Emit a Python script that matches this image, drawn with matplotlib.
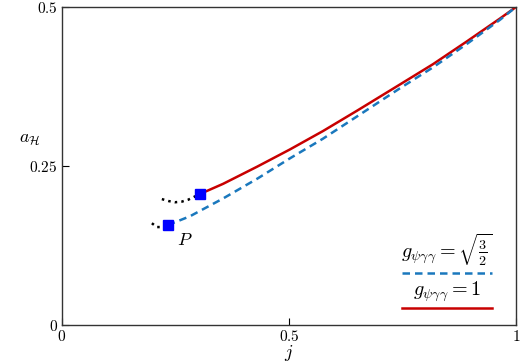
import matplotlib
matplotlib.use("Agg")
import matplotlib.pyplot as plt

plt.rcParams["mathtext.fontset"] = "cm"
plt.rcParams["font.family"] = "serif"

# g = 1 branch (red, solid)
j_red = [0.304, 0.355, 0.430, 0.502, 0.575, 0.650, 0.744, 0.817, 0.892, 0.965, 1.0]
a_red = [0.206, 0.222, 0.249, 0.276, 0.305, 0.337, 0.378, 0.410, 0.446, 0.482, 0.5]

# g = sqrt(3/2) branch (blue, dashed)
j_blue = [0.233, 0.282, 0.355, 0.430, 0.502, 0.575, 0.650, 0.744, 0.817, 0.892, 0.965, 1.0]
a_blue = [0.157, 0.171, 0.199, 0.230, 0.262, 0.293, 0.328, 0.372, 0.405, 0.442, 0.480, 0.5]

# dotted continuations
j_dot_up = [0.220, 0.234, 0.249, 0.264, 0.278, 0.304]
a_dot_up = [0.198, 0.195, 0.193, 0.194, 0.197, 0.206]
j_dot_lo = [0.198, 0.209, 0.222, 0.233]
a_dot_lo = [0.160, 0.154, 0.154, 0.157]

# end points (squares)
j_sq = [0.304, 0.233]
a_sq = [0.206, 0.157]

fig = plt.figure(figsize=(5.23, 3.64), dpi=100)
ax = fig.add_axes([0.1185, 0.1071, 0.8681, 0.8737])

ax.plot(j_dot_up, a_dot_up, ":", color="black", lw=1.8)
ax.plot(j_dot_lo, a_dot_lo, ":", color="black", lw=1.8)
ax.plot(j_red, a_red, "-", color="#c80000", lw=1.8)
ax.plot(j_blue, a_blue, "--", color="#1a78bd", lw=1.8, dashes=(3, 2))
ax.plot(j_sq, a_sq, "s", color="#0000ff", ms=6.5, ls="none")

ax.text(0.254, 0.126, "$P$", fontsize=13)

# legend drawn by hand
ax.text(0.848, 0.235, r"$g_{\psi\gamma\gamma}=\sqrt{\frac{3}{2}}$", transform=ax.transAxes,
        ha="center", va="center", fontsize=14.5)
ax.plot([0.749, 0.947], [0.164, 0.164], "--", color="#1a78bd", lw=1.8, dashes=(3, 2),
        transform=ax.transAxes)
ax.text(0.848, 0.104, r"$g_{\psi\gamma\gamma}=1$", transform=ax.transAxes,
        ha="center", va="center", fontsize=14.5)
ax.plot([0.749, 0.947], [0.053, 0.053], "-", color="#c80000", lw=1.8,
        transform=ax.transAxes)

ax.set_xlim(0, 1)
ax.set_ylim(0, 0.5)
ax.set_xticks([0, 0.5, 1])
ax.set_xticklabels(["$0$", "$0.5$", "$1$"], fontsize=11)
ax.set_yticks([0, 0.25, 0.5])
ax.set_yticklabels(["$0$", "$0.25$", "$0.5$"], fontsize=11)
ax.tick_params(direction="in", length=5, width=0.8, pad=3, top=False, right=False)
for s in ax.spines.values():
    s.set_linewidth(1.0)
    s.set_color("#333333")

ax.set_xlabel("$j$", fontsize=13)
ax.xaxis.set_label_coords(0.5, -0.055)
ax.set_ylabel(r"$a_{\mathcal{H}}$", fontsize=13, rotation=0)
ax.yaxis.set_label_coords(-0.07, 0.557)

fig.savefig("out.png", dpi=100)
